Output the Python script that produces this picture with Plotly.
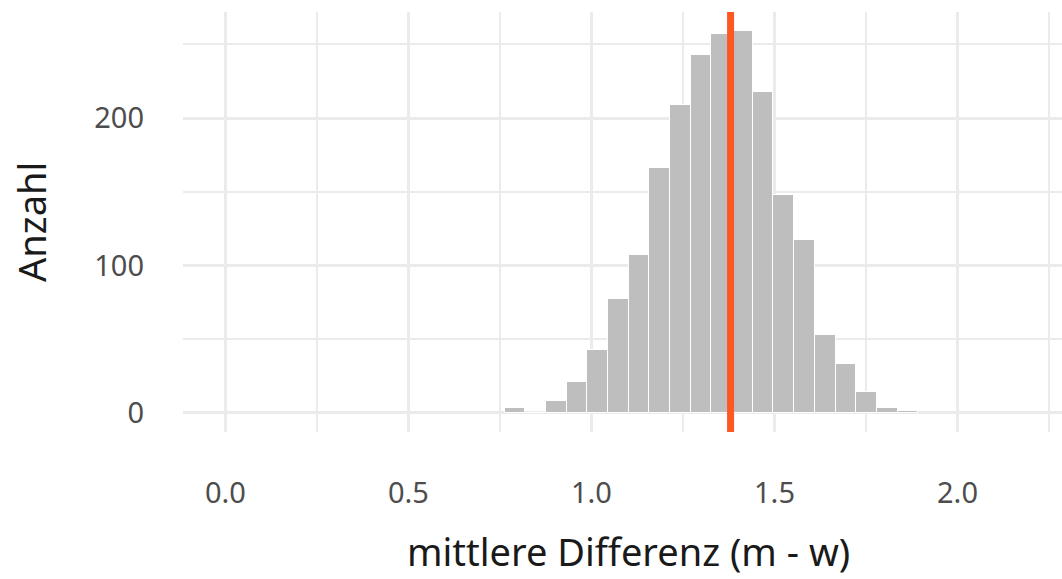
import plotly.graph_objects as go

# histogram of mean differences (bin centers and counts)
bin_centers = [0.791, 0.8475, 0.904, 0.9605, 1.017, 1.0735, 1.130, 1.1865, 1.243, 1.2995,
               1.356, 1.4125, 1.469, 1.5255, 1.582, 1.6385, 1.695, 1.7515, 1.808, 1.8645]
counts = [3, 0, 8, 21, 43, 77, 107, 166, 209, 243,
          257, 259, 218, 148, 117, 53, 33, 14, 3, 1]
bin_width = 0.0565
observed_diff = 1.38

x_ticks = [0.0, 0.5, 1.0, 1.5, 2.0]
x_tick_labels = ["0.0", "0.5", "1.0", "1.5", "2.0"]
y_ticks = [0, 100, 200]
y_tick_labels = ["0", "100", "200"]

FONT = "'Noto Sans', 'Source Sans Pro', Lato, sans-serif"
GRID = "#EBEBEB"

fig = go.Figure()
fig.add_trace(go.Bar(
    x=bin_centers, y=counts, width=[bin_width] * len(counts),
    marker=dict(color="#BEBEBE", line=dict(color="white", width=1)),
    hoverinfo="x+y", showlegend=False,
))

fig.add_shape(type="line", xref="x", yref="paper", x0=observed_diff, x1=observed_diff,
              y0=0, y1=1, line=dict(color="#FF5722", width=7), layer="above")

fig.update_layout(
    width=1062, height=579,
    margin=dict(l=183, r=0, t=12, b=147),
    paper_bgcolor="white", plot_bgcolor="white",
    bargap=0,
    font=dict(family=FONT, size=28, color="#4D4D4D"),
    xaxis=dict(
        range=[-0.116, 2.2855],
        tickvals=x_ticks, ticktext=x_tick_labels,
        showgrid=True, gridcolor=GRID, gridwidth=3,
        minor=dict(dtick=0.25, tick0=0, showgrid=True, gridcolor=GRID, gridwidth=1.5),
        zeroline=False, showline=False, ticks="",
        ticklabelstandoff=41,
        tickfont=dict(family=FONT, size=29, color="#4D4D4D"),
    ),
    yaxis=dict(
        range=[-12.95, 271.95],
        tickvals=y_ticks, ticktext=y_tick_labels,
        showgrid=True, gridcolor=GRID, gridwidth=3,
        minor=dict(dtick=50, tick0=0, showgrid=True, gridcolor=GRID, gridwidth=1.5),
        zeroline=False, showline=False, ticks="",
        ticklabelstandoff=38,
        tickfont=dict(family=FONT, size=29, color="#4D4D4D"),
    ),
    annotations=[
        dict(text="mittlere Differenz (m - w)", xref="paper", yref="paper",
             x=(628 - 183) / (1062 - 183), y=-(551 - 432) / 420, xanchor="center", yanchor="middle",
             showarrow=False, font=dict(family=FONT, size=38, color="#1A1A1A")),
        dict(text="Anzahl", xref="paper", yref="paper", textangle=-90,
             x=-(183 - 31) / (1062 - 183), y=0.5, xanchor="center", yanchor="middle",
             showarrow=False, font=dict(family=FONT, size=38, color="#1A1A1A")),
    ],
)

fig.write_html("out.html")
